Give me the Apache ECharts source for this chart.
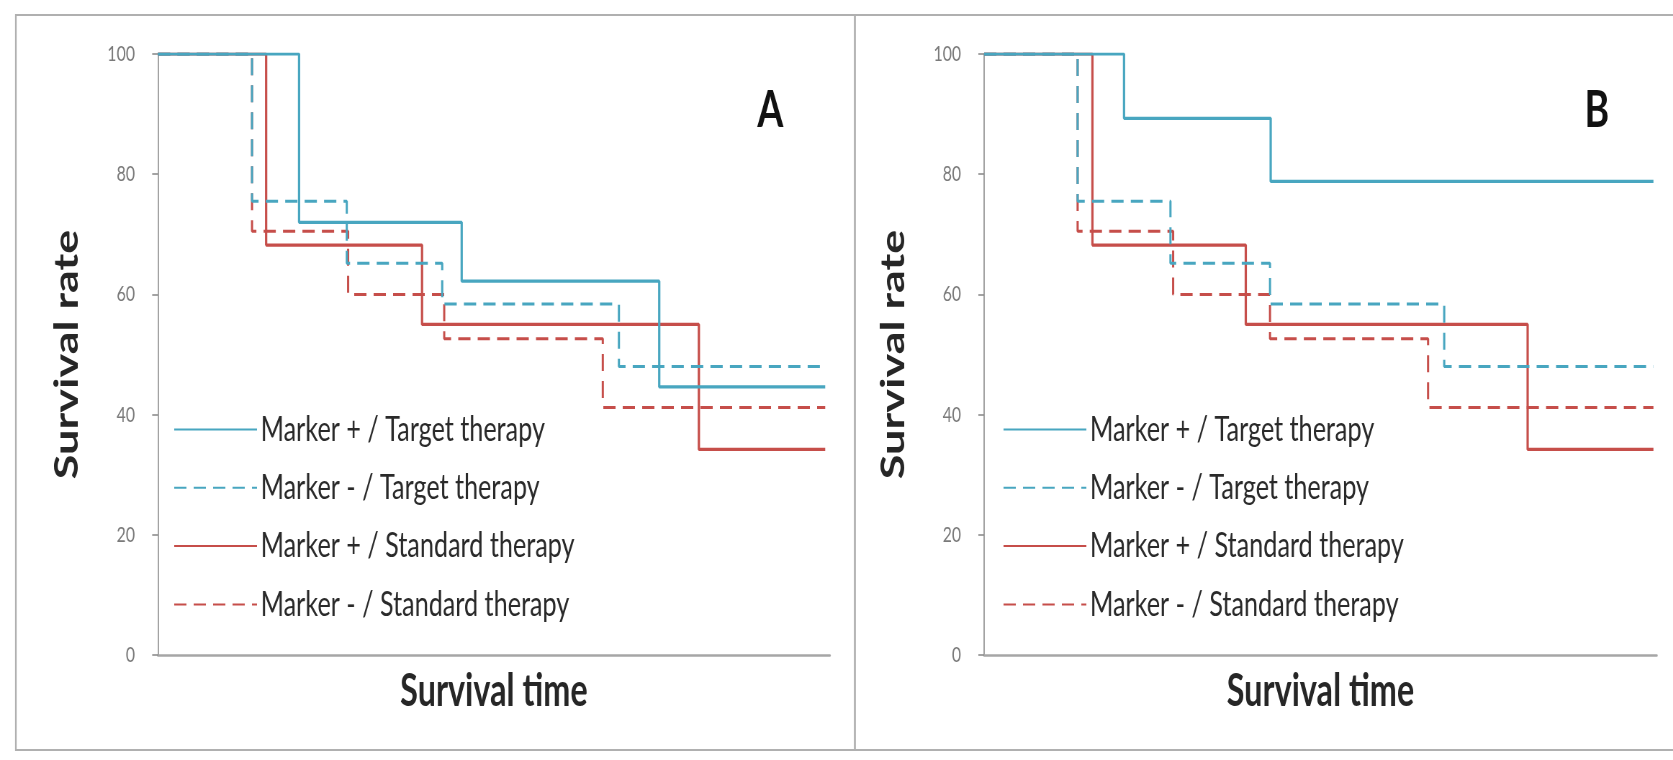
<!DOCTYPE html>
<html>
<head>
<meta charset="utf-8">
<script src="https://cdn.jsdelivr.net/npm/echarts@6/dist/echarts.min.js"></script>
<style>
html,body{margin:0;padding:0;background:#fff;overflow:hidden;}
#wrap{width:1673px;height:760px;overflow:hidden;position:relative;}
#chart{width:2324px;height:760px;transform:scaleX(0.7199);transform-origin:0 0;filter:blur(0.5px);}
</style>
</head>
<body>
<div id="wrap"><div id="chart"></div></div>
<script>
// ---- data ----
const seriesNames = ['Marker + / Target therapy', 'Marker - / Target therapy', 'Marker + / Standard therapy', 'Marker - / Standard therapy'];
const panelLabels = ['A', 'B'];
const yTicks = [0, 20, 40, 60, 80, 100];

// Panel A
const timeA_posTarget = [0, 21.0, 45.2, 74.6, 99.3];
const survA_posTarget = [100, 72.0, 62.2, 44.6, 44.6];
const timeA_negTarget = [0, 14.0, 28.1, 42.3, 68.6, 99.3];
const survA_negTarget = [100, 75.5, 65.2, 58.4, 48.0, 48.0];
const timeA_posStandard = [0, 16.1, 39.3, 80.5, 99.3];
const survA_posStandard = [100, 68.2, 55.0, 34.2, 34.2];
const timeA_negStandard = [0, 14.0, 28.3, 42.6, 66.2, 99.3];
const survA_negStandard = [100, 70.5, 60.0, 52.6, 41.2, 41.2];

// Panel B
const timeB_posTarget = [0, 20.8, 42.6, 99.5];
const survB_posTarget = [100, 89.3, 78.8, 78.8];
const timeB_negTarget = [0, 13.9, 27.7, 42.5, 68.4, 99.5];
const survB_negTarget = [100, 75.5, 65.2, 58.4, 48.0, 48.0];
const timeB_posStandard = [0, 16.1, 38.9, 80.8, 99.5];
const survB_posStandard = [100, 68.2, 55.0, 34.2, 34.2];
const timeB_negStandard = [0, 13.9, 28.1, 42.5, 66.0, 99.5];
const survB_negStandard = [100, 70.5, 60.0, 52.6, 41.2, 41.2];

// ---- build ----
function zip(t, s) { return t.map((v, i) => [v, s[i]]); }
const BLUE = '#48A6C0', RED = '#C64E4A';
const DASH = [17, 10];
const styles = [
  { color: BLUE, type: 'solid', width: 3.2 },
  { color: BLUE, type: DASH, width: 3 },
  { color: RED, type: 'solid', width: 3.2 },
  { color: RED, type: DASH, width: 3 }
];
const panelData = [
  [zip(timeA_posTarget, survA_posTarget), zip(timeA_negTarget, survA_negTarget), zip(timeA_posStandard, survA_posStandard), zip(timeA_negStandard, survA_negStandard)],
  [zip(timeB_posTarget, survB_posTarget), zip(timeB_negTarget, survB_negTarget), zip(timeB_posStandard, survB_posStandard), zip(timeB_negStandard, survB_negStandard)]
];

const FONT = 'Lato, "Open Sans", "DejaVu Sans", sans-serif';
const grids = [
  { left: 219.4, width: 933.4, top: 54, bottom: 105 },
  { left: 1367, width: 934.4, top: 54, bottom: 105 }
];
const legendLeft = [236, 1388];
const labelLeft = [1052, 2201];

const xAxes = [], yAxes = [], series = [], legends = [], titles = [];
for (let p = 0; p < 2; p++) {
  xAxes.push({
    type: 'value', gridIndex: p, min: 0, max: 100,
    name: 'Survival time', nameLocation: 'middle', nameGap: 14,
    nameTextStyle: { fontFamily: FONT, fontWeight: 'bold', fontSize: 45, color: '#262626' },
    axisLine: { show: true, onZero: false, lineStyle: { color: '#a6a6a6', width: 2.6 } },
    axisTick: { show: false }, axisLabel: { show: false }, splitLine: { show: false }
  });
  yAxes.push({
    type: 'value', gridIndex: p, min: 0, max: 100, interval: 20,
    name: 'Survival rate', nameLocation: 'middle', nameGap: 103, nameRotate: 90,
    nameTextStyle: { fontFamily: FONT, fontWeight: 'bold', fontSize: 45, color: '#262626' },
    axisLine: { show: true, lineStyle: { color: '#8c8c8c', width: 1.6 } },
    axisTick: { show: true, inside: false, length: 8, lineStyle: { color: '#8c8c8c', width: 1.6 } },
    axisLabel: { show: true, margin: 32, fontFamily: FONT, fontSize: 22, color: '#7a7a7a',
      formatter: v => (yTicks.indexOf(v) >= 0 ? String(v) : '') },
    splitLine: { show: false }
  });
  for (let s = 0; s < 4; s++) {
    series.push({
      name: seriesNames[s], type: 'line', xAxisIndex: p, yAxisIndex: p,
      step: 'end', symbol: 'none', showSymbol: false, silent: true,
      data: panelData[p][s],
      lineStyle: styles[s], itemStyle: { color: styles[s].color },
      z: 3 + (3 - s)
    });
  }
  legends.push({
    orient: 'vertical', left: legendLeft[p], top: 407,
    itemWidth: 115, itemHeight: 14, itemGap: 23.3,
    selectedMode: false, data: seriesNames,
    itemStyle: { opacity: 0, color: 'rgba(0,0,0,0)', borderWidth: 0 },
    textStyle: { fontFamily: FONT, fontSize: 35, color: '#2a2a2a' }
  });
  titles.push({
    text: panelLabels[p], left: labelLeft[p], top: 84, padding: 0,
    textStyle: { fontFamily: FONT, fontWeight: 'bold', fontSize: 52, color: '#111' }
  });
}

const chart = echarts.init(document.getElementById('chart'), null, { renderer: 'canvas', devicePixelRatio: 1 });
chart.setOption({
  animation: false,
  backgroundColor: '#ffffff',
  title: titles,
  legend: legends,
  grid: grids,
  xAxis: xAxes,
  yAxis: yAxes,
  series: series,
  graphic: [
    { type: 'rect', silent: true, z: 0, shape: { x: 22, y: 15, width: 1165.5, height: 735 },
      style: { fill: 'none', stroke: '#b0b0b0', lineWidth: 2.2 } },
    { type: 'rect', silent: true, z: 0, shape: { x: 1187.5, y: 15, width: 1200, height: 735 },
      style: { fill: 'none', stroke: '#b0b0b0', lineWidth: 2.2 } }
  ]
});
</script>
</body>
</html>
